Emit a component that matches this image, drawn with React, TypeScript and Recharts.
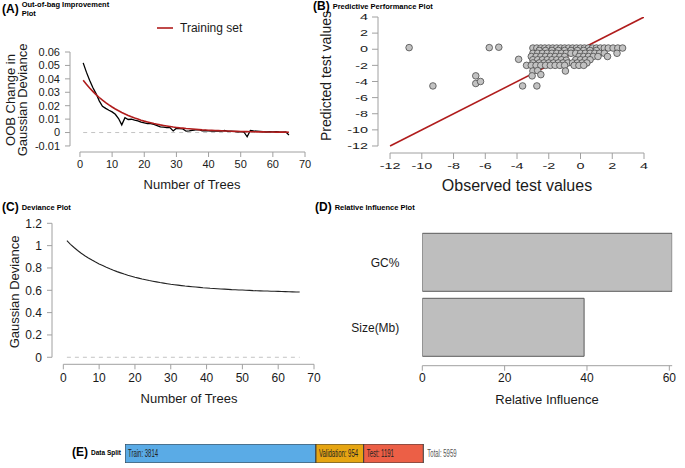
import React from 'react';
import {
  LineChart,
  Line,
  ScatterChart,
  Scatter,
  BarChart,
  Bar,
  XAxis,
  YAxis,
  ReferenceLine,
  Legend,
  LabelList,
} from 'recharts';

const FONT = '"Liberation Sans", Arial, Helvetica, sans-serif';
const AXIS = '#a0a0a0';
const INK = '#1a1a1a';
const RED = '#b01c1c';

// (A) out-of-bag improvement per tree (trees 1..65)
const oobChange = [
  0.0519, 0.045, 0.039, 0.0335, 0.029, 0.0236, 0.0196, 0.018, 0.0166, 0.0154,
  0.0136, 0.0104, 0.0057, 0.011, 0.0097, 0.0099, 0.0092, 0.0087, 0.0077, 0.0072,
  0.0067, 0.0067, 0.006, 0.0052, 0.0042, 0.004, 0.0037, 0.0037, 0.0012, 0.0032,
  0.003, 0.0027, 0.001, 0.0012, 0.0017, 0.002, 0.0022, 0.0012, 0.0015, 0.0012,
  0.001, 0.001, 0.0012, 0.001, 0.0015, 0.0008, 0.001, 0.0008, 0.0006, 0.0007,
  0.0004, -0.0032, 0.0015, 0.0012, 0.001, 0.0008, 0.0006, 0.0004, 0.0007, 0.0005,
  0.0006, 0.0004, 0.0003, 0.0005, -0.0018,
];
const oobSmooth = [
  0.039, 0.036, 0.0332, 0.0307, 0.0283, 0.0261, 0.0241, 0.0223, 0.0206, 0.019,
  0.0175, 0.0162, 0.0149, 0.0138, 0.0127, 0.0117, 0.0108, 0.01, 0.0092, 0.0085,
  0.0079, 0.0073, 0.0067, 0.0062, 0.0057, 0.0053, 0.0049, 0.0045, 0.0041, 0.0038,
  0.0035, 0.0033, 0.003, 0.0028, 0.0026, 0.0024, 0.0022, 0.002, 0.0019, 0.0017,
  0.0016, 0.0015, 0.0014, 0.0013, 0.0012, 0.0011, 0.001, 0.0009, 0.0009, 0.0008,
  0.0007, 0.0007, 0.0006, 0.0006, 0.0005, 0.0005, 0.0005, 0.0004, 0.0004, 0.0004,
  0.0003, 0.0003, 0.0003, 0.0003, 0.0002,
];
const treeTicks = [0, 10, 20, 30, 40, 50, 60, 70];
const oobTicks = [-0.01, 0, 0.01, 0.02, 0.03, 0.04, 0.05, 0.06];

// (B) observed vs predicted test values
const testPoints: [number, number][] = [
  [-3.0, 0.15], [-2.75, 0.15], [-2.5, 0.15], [-2.25, 0.15], [-2.0, 0.15], [-1.75, 0.15],
  [-1.5, 0.15], [-1.25, 0.15], [-1.0, 0.15], [-0.75, 0.15], [-0.5, 0.15], [-0.25, 0.15],
  [0.0, 0.15], [0.25, 0.15], [0.5, 0.15], [0.75, 0.15], [1.0, 0.15], [1.25, 0.15],
  [1.5, 0.15], [1.75, 0.15], [2.05, 0.15], [2.35, 0.15], [2.65, 0.15],
  [-2.6, -0.15], [-2.2, -0.15], [-1.8, -0.15], [-1.4, -0.15], [-1.0, -0.15],
  [-0.6, -0.15], [-0.2, -0.15], [0.2, -0.15], [0.6, -0.15], [1.0, -0.15],
  [-3.0, -0.5], [-2.7, -0.5], [-2.4, -0.5], [-2.1, -0.5], [-1.8, -0.5], [-1.5, -0.5],
  [-1.2, -0.5], [-0.9, -0.5], [-0.6, -0.5], [-0.3, -0.5], [0.0, -0.5], [0.3, -0.5],
  [0.6, -0.5], [0.9, -0.5], [1.2, -0.5], [1.5, -0.5], [2.3, -0.5],
  [-3.1, -0.9], [-2.8, -0.9], [-2.5, -0.9], [-2.2, -0.9], [-1.9, -0.9], [-1.6, -0.9],
  [-1.3, -0.9], [-1.0, -0.9], [-0.1, -0.9], [0.2, -0.9], [0.5, -0.9], [0.8, -0.9],
  [1.1, -0.9], [1.7, -0.9],
  [-3.9, -1.25], [-3.0, -1.3], [-2.7, -1.3], [-2.4, -1.3], [-2.1, -1.3], [-1.8, -1.3],
  [-1.5, -1.3], [-1.2, -1.3], [-0.9, -1.35], [-0.3, -1.3], [0.0, -1.3], [0.3, -1.3],
  [0.6, -1.3],
  [-3.0, -1.7], [-2.6, -1.7], [-2.3, -1.7], [-2.0, -1.7], [-1.7, -1.7], [-1.4, -1.7],
  [-1.1, -1.7], [-0.8, -1.7], [-0.5, -1.7], [-0.2, -1.7], [0.1, -1.7], [0.4, -1.7],
  [-3.4, -2.0], [-3.1, -2.0], [-2.8, -2.0], [-2.5, -2.0], [-2.2, -2.0], [-1.9, -2.0],
  [-1.6, -2.0], [-1.3, -2.0], [-1.0, -2.0], [-0.4, -2.0], [-0.1, -2.0], [0.2, -2.0],
  [-3.0, -2.7], [-2.7, -2.65], [-0.95, -2.7], [-2.5, -3.15], [-3.05, -3.3],
  [-3.65, -4.55], [-2.75, -4.55], [-10.8, 0.2], [-9.3, -4.55], [-6.6, -3.3],
  [-6.6, -4.25], [-6.3, -4.0], [-5.75, 0.2], [-5.15, 0.25],
];
const identityEnds = [-12, 4];
const perfTicks = [-12, -10, -8, -6, -4, -2, 0, 2, 4];

// (C) deviance per tree (trees 1..66)
const deviance = [
  1.044, 1.012, 0.983, 0.956, 0.932, 0.91, 0.89, 0.871, 0.853, 0.836,
  0.821, 0.806, 0.792, 0.779, 0.767, 0.756, 0.745, 0.735, 0.726, 0.717,
  0.709, 0.701, 0.694, 0.687, 0.681, 0.675, 0.669, 0.664, 0.659, 0.654,
  0.65, 0.646, 0.642, 0.638, 0.635, 0.632, 0.629, 0.626, 0.623, 0.621,
  0.618, 0.616, 0.614, 0.612, 0.61, 0.608, 0.606, 0.605, 0.603, 0.602,
  0.6, 0.599, 0.597, 0.596, 0.595, 0.594, 0.593, 0.592, 0.591, 0.59,
  0.589, 0.588, 0.587, 0.586, 0.585, 0.584,
];
const devianceTicks = [0, 0.2, 0.4, 0.6, 0.8, 1, 1.2];

// (D) relative influence
const predictors = ['GC%', 'Size(Mb)'];
const influence = [60.7, 39.3];
const influenceTicks = [0, 20, 40, 60];

// (E) data split
const splitNames = ['Train', 'Validation', 'Test'];
const splitCounts = [3814, 954, 1191];
const splitColors = ['#5aabe6', '#e6a512', '#ec5f46'];

const oobData = oobChange.map((v, i) => ({ tree: i + 1, oob: v, smooth: oobSmooth[i] }));
const perfData = testPoints.map(([obs, pred]) => ({ obs, pred }));
const identityData = identityEnds.map((v) => ({ obs: v, pred: v }));
const devianceData = deviance.map((v, i) => ({ tree: i + 1, dev: v }));
const influenceData = predictors.map((name, i) => ({ name, value: influence[i] }));
const splitTotal = splitCounts.reduce((a, b) => a + b, 0);
const splitRow: Record<string, number | string> = { name: 'split' };
splitNames.forEach((n, i) => {
  splitRow[n] = splitCounts[i];
});

const titleAt = (x: number, y: number, lines: string[], size: number, rotate = false, gap = 0) =>
  function AxisTitle() {
    return (
      <g>
        {lines.map((line, i) => {
          const tx = rotate ? x + i * gap : x;
          const ty = rotate ? y : y + i * gap;
          return (
            <text
              key={line}
              x={tx}
              y={ty}
              transform={rotate ? `rotate(-90 ${tx} ${ty})` : undefined}
              textAnchor="middle"
              dominantBaseline="central"
              fontSize={size}
              fontFamily={FONT}
              fill={INK}
            >
              {line}
            </text>
          );
        })}
      </g>
    );
  };

const tickStyle = (size: number) => ({ fontSize: size, fill: INK, fontFamily: FONT });

// panel B tick labels are drawn wide in the source figure
function WideTick(props: any) {
  const { x, y, payload, textAnchor } = props;
  const dy = textAnchor === 'middle' ? '0.71em' : '0.35em';
  return (
    <text
      transform={`translate(${x},${y}) scale(1.6,1)`}
      textAnchor={textAnchor}
      dy={dy}
      fontSize={9}
      fontFamily={FONT}
      fill={INK}
    >
      {payload.value}
    </text>
  );
}

function TestDot(props: any) {
  return <circle cx={props.cx} cy={props.cy} r={3.3} fill="#c2c2c2" stroke="#4a4a4a" strokeWidth={0.8} />;
}

function PanelTitle({ left, top, tag, name, size = 7.5 }: { left: number; top: number; tag: string; name: string[]; size?: number }) {
  return (
    <div style={{ position: 'absolute', left, top, display: 'flex', alignItems: 'center', fontFamily: FONT, color: '#000' }}>
      <span style={{ fontSize: 12, fontWeight: 'bold', marginRight: 3 }}>{tag}</span>
      <span style={{ fontSize: size, fontWeight: 'bold', lineHeight: '9px' }}>
        {name.map((n) => (
          <div key={n}>{n}</div>
        ))}
      </span>
    </div>
  );
}

// condensed labels inside the split bar
function splitLabel(prefix: string, dx: number, color: string, text?: string) {
  return function SplitLabel(p: any) {
    const vb = p.viewBox || p;
    const x = prefix === '' ? vb.x + vb.width + dx : vb.x + dx;
    const y = vb.y + vb.height / 2;
    return (
      <text
        transform={`translate(${x},${y}) scale(0.6,1)`}
        dominantBaseline="central"
        fontSize={10}
        fontFamily={FONT}
        fill={color}
      >
        {text ?? `${prefix}: ${p.value}`}
      </text>
    );
  };
}

export default function App() {
  return (
    <div style={{ position: 'absolute', left: 0, top: 0, width: 685, height: 468, background: '#fff', fontFamily: FONT }}>
      <PanelTitle left={2} top={0} tag="(A)" name={['Out-of-bag Improvement', 'Plot']} />
      <PanelTitle left={313} top={-1} tag="(B)" name={['Predictive Performance Plot']} />
      <PanelTitle left={2} top={200} tag="(C)" name={['Deviance Plot']} />
      <PanelTitle left={315} top={200} tag="(D)" name={['Relative Influence Plot']} />
      <PanelTitle left={72} top={445} tag="(E)" name={['Data Split']} size={6.5} />

      {/* (A) */}
      <div style={{ position: 'absolute', left: 0, top: 0 }}>
        <LineChart width={320} height={200} data={oobData} margin={{ top: 52, right: 15, bottom: 0, left: 0 }}>
          <XAxis
            type="number"
            dataKey="tree"
            domain={[-3.1, 70]}
            allowDataOverflow
            ticks={treeTicks}
            interval={0}
            height={48}
            axisLine={false}
            tickLine={{ stroke: AXIS }}
            tickSize={5}
            tickMargin={3}
            tick={tickStyle(11)}
            label={titleAt(192, 184, ['Number of Trees'], 13)}
          />
          <YAxis
            type="number"
            domain={[-0.0145, 0.06]}
            allowDataOverflow
            ticks={oobTicks}
            interval={0}
            width={70}
            axisLine={false}
            tickLine={{ stroke: AXIS }}
            tickSize={5}
            tickMargin={5}
            tick={tickStyle(11)}
            tickFormatter={(v: number) => (v === 0 ? '0' : v.toFixed(2))}
            label={titleAt(10, 100, ['OOB Change in', 'Gaussian Deviance'], 13, true, 12)}
          />
          <ReferenceLine segment={[{ x: 0, y: -0.0145 }, { x: 70, y: -0.0145 }]} stroke={AXIS} ifOverflow="visible" />
          <ReferenceLine segment={[{ x: -3.1, y: -0.01 }, { x: -3.1, y: 0.06 }]} stroke={AXIS} ifOverflow="visible" />
          <ReferenceLine segment={[{ x: 1, y: 0 }, { x: 65, y: 0 }]} stroke="#c4c4c4" strokeDasharray="4 4" ifOverflow="visible" />
          <Line type="linear" dataKey="oob" stroke="#000" strokeWidth={1.3} dot={false} legendType="none" isAnimationActive={false} />
          <Line type="linear" dataKey="smooth" name="Training set" stroke={RED} strokeWidth={1.6} dot={false} isAnimationActive={false} />
          <Legend
            layout="horizontal"
            verticalAlign="middle"
            align="center"
            wrapperStyle={{ position: 'absolute', left: 157, top: 21, width: 'auto', height: 'auto' }}
            content={() => (
              <div style={{ display: 'flex', alignItems: 'center', fontFamily: FONT, fontSize: 12, color: INK }}>
                <svg width={16} height={4} style={{ marginRight: 7 }}>
                  <line x1={0} y1={2} x2={16} y2={2} stroke={RED} strokeWidth={1.6} />
                </svg>
                Training set
              </div>
            )}
          />
        </LineChart>
      </div>

      {/* (B) */}
      <div style={{ position: 'absolute', left: 300, top: 0 }}>
        <ScatterChart width={385} height={200} margin={{ top: 17, right: 41, bottom: 0, left: 0 }}>
          <XAxis
            type="number"
            dataKey="obs"
            domain={[-12.76, 4]}
            allowDataOverflow
            ticks={perfTicks}
            interval={0}
            height={47}
            axisLine={false}
            tickLine={{ stroke: AXIS }}
            tickSize={6}
            tickMargin={4}
            tick={<WideTick />}
            label={titleAt(217, 185, ['Observed test values'], 16)}
          />
          <YAxis
            type="number"
            dataKey="pred"
            domain={[-12.87, 4]}
            allowDataOverflow
            ticks={perfTicks}
            interval={0}
            width={78}
            axisLine={false}
            tickLine={{ stroke: AXIS }}
            tickSize={6}
            tickMargin={4}
            tick={<WideTick />}
            label={titleAt(26, 76, ['Predicted test values'], 14, true)}
          />
          <ReferenceLine segment={[{ x: -12, y: -12.87 }, { x: 4, y: -12.87 }]} stroke={AXIS} ifOverflow="visible" />
          <ReferenceLine segment={[{ x: -12.76, y: -12 }, { x: -12.76, y: 4 }]} stroke={AXIS} ifOverflow="visible" />
          <Scatter data={identityData} line={{ stroke: RED, strokeWidth: 1.6 }} shape={() => <g />} isAnimationActive={false} />
          <Scatter data={perfData} shape={TestDot} isAnimationActive={false} />
        </ScatterChart>
      </div>

      {/* (C) */}
      <div style={{ position: 'absolute', left: 0, top: 200 }}>
        <LineChart width={340} height={215} data={devianceData} margin={{ top: 23.3, right: 26, bottom: 0, left: 0 }}>
          <XAxis
            type="number"
            dataKey="tree"
            domain={[-3.16, 70]}
            allowDataOverflow
            ticks={treeTicks}
            interval={0}
            height={50.7}
            axisLine={false}
            tickLine={{ stroke: AXIS }}
            tickSize={5}
            tickMargin={4}
            tick={tickStyle(12)}
            label={titleAt(189, 198, ['Number of Trees'], 13)}
          />
          <YAxis
            type="number"
            domain={[-0.063, 1.2]}
            allowDataOverflow
            ticks={devianceTicks}
            interval={0}
            width={52}
            axisLine={false}
            tickLine={{ stroke: AXIS }}
            tickSize={5}
            tickMargin={5}
            tick={tickStyle(12)}
            tickFormatter={(v: number) => String(Math.round(v * 10) / 10)}
            label={titleAt(14, 92, ['Gaussian Deviance'], 13, true)}
          />
          <ReferenceLine segment={[{ x: 0, y: -0.063 }, { x: 70, y: -0.063 }]} stroke={AXIS} ifOverflow="visible" />
          <ReferenceLine segment={[{ x: -3.16, y: 0 }, { x: -3.16, y: 1.2 }]} stroke={AXIS} ifOverflow="visible" />
          <ReferenceLine segment={[{ x: 1, y: 0 }, { x: 66, y: 0 }]} stroke="#c4c4c4" strokeDasharray="4 4" ifOverflow="visible" />
          <Line type="linear" dataKey="dev" stroke="#222" strokeWidth={1.1} dot={false} isAnimationActive={false} />
        </LineChart>
      </div>

      {/* (D) */}
      <div style={{ position: 'absolute', left: 340, top: 200 }}>
        <BarChart
          layout="vertical"
          width={345}
          height={215}
          data={influenceData}
          margin={{ top: 30, right: 12.8, bottom: 0, left: 0 }}
          barCategoryGap={3.3}
        >
          <XAxis
            type="number"
            domain={[0, 60.7]}
            allowDataOverflow
            ticks={influenceTicks}
            interval={0}
            height={49.3}
            axisLine={{ stroke: AXIS }}
            tickLine={{ stroke: AXIS }}
            tickSize={5}
            tickMargin={3}
            tick={tickStyle(12)}
            label={titleAt(207, 199, ['Relative Influence'], 13)}
          />
          <YAxis
            type="category"
            dataKey="name"
            width={82.3}
            axisLine={false}
            tickLine={false}
            tickSize={0}
            tickMargin={23}
            padding={{ top: 0, bottom: 5.7 }}
            tick={tickStyle(12)}
          />
          <Bar dataKey="value" fill="#bebebe" stroke="#5a5a5a" strokeWidth={1} isAnimationActive={false} />
        </BarChart>
      </div>

      {/* (E) */}
      <div style={{ position: 'absolute', left: 125, top: 444 }}>
        <BarChart
          layout="vertical"
          width={360}
          height={19}
          data={[splitRow]}
          margin={{ top: 0, right: 61.7, bottom: 0, left: 0 }}
          barCategoryGap={0}
        >
          <XAxis type="number" hide domain={[0, splitTotal]} />
          <YAxis type="category" hide dataKey="name" />
          {splitNames.map((n, i) => (
            <Bar key={n} dataKey={n} stackId="split" fill={splitColors[i]} stroke="#3a3a3a" strokeWidth={1} isAnimationActive={false}>
              <LabelList dataKey={n} content={splitLabel(n, 3, '#222')} />
              {i === splitNames.length - 1 && (
                <LabelList dataKey={n} content={splitLabel('', 4, '#555', `Total: ${splitTotal}`)} />
              )}
            </Bar>
          ))}
        </BarChart>
      </div>
    </div>
  );
}
